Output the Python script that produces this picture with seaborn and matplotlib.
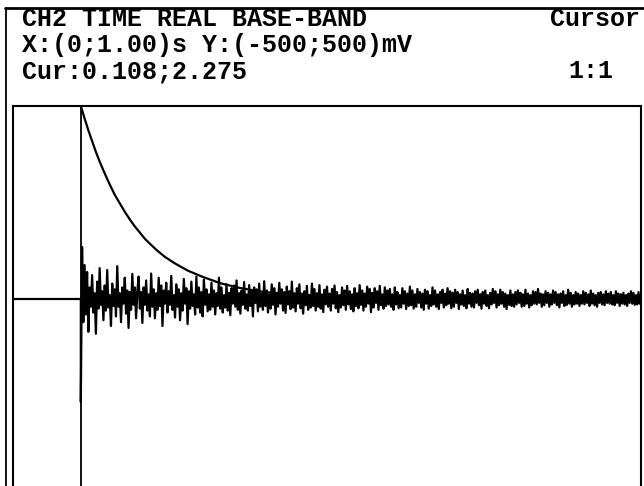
import matplotlib as mpl
mpl.use("Agg")

import matplotlib.pyplot as plt
from matplotlib.lines import Line2D
import seaborn as sns
import numpy as np
import pandas as pd

sns.set_style("white")

# header rows of the scope screen
title_row = "CH2 TIME REAL BASE-BAND"
range_row = "X:(0;1.00)s Y:(-500;500)mV"
cursor_row = "Cur:0.108;2.275"
mode_label = "Cursor"
zoom_label = "1:1"

x_range = (0.0, 1.00)      # s
y_range = (-500, 500)      # mV
cursor_t = 0.108

# flat trace before the trigger
pre_t = [0.0, 0.108]
pre_mv = [0, 0]

# sampled trace after the trigger, 2 ms apart from 0.108 s to 1.00 s
signal_mv = [
    -267, 135, -60, 88, -40, 70, -85, 30, -20, 62, -35, 15, -90, 45, -25, 80, -15, 20, -55, 35, -30, 75, -22,
    10, -70, 40, -18, 25, -45, 85, -20, 15, -60, 30, -12, 55, -38, 22, -75, 18, -28, 65, -15, 30, -50, 20,
    58, -25, 18, -62, 30, -15, 48, -30, 12, -45, 66, -20, 25, -50, 15, -28, 55, -18, 35, -70, 22, -12, 42, -35, 20,
    -15, 60, -28, 10, -48, 38, -20, 25, -55, 15, -30, 52, -12, 28, -65, 20, -25, 45, -18, 12, -40, 58, -22, 30, -35,
    18, -45, 50, -15, 25, -32, 12, -28, 42, -20, 22, -40, 15, -18, 55, -25, 30, -35, 10, -22, 38, -30, 16, -42, 28,
    -12, 35, -20, 48, -28, 15, -38, 22, -15, 44, -25, 12, -30, 36, -18, 20, -45, 30, -10, 25, -32, 40, -20, 14, -28,
    46, -18, 22, -35, 12, -25, 38, -15, 28, -40, 16, -20, 42, -12, 25, -30, 18, -36, 32, -14, 20, -26, 45, -22, 15,
    -32, 28, -12, 38, -24, 14, -38, 20, -16, 34, -28, 10, -22, 40, -18, 26, -30, 15, -20, 36, -25, 12, -34, 24, -14,
    32, -20, 14, -30, 26, -12, 35, -24, 18, -34, 10, -22, 30, -16, 22, -28, 34, -14, 20, -26, 12, -32, 28, -18, 15,
    -24, 36, -15, 22, -30, 14, -20, 32, -12, 26, -34, 16, -22, 28, -10, 20, -28, 34, -16, 12, -25, 30, -18, 22, -14,
    26, -20, 12, -28, 30, -14, 18, -24, 10, -22, 28, -12, 20, -26, 14, -18, 32, -16, 22, -25, 12, -20, 26, -10, 18,
    -22, 14, -28, 24, -12, 20, -25, 10, -18, 30, -14, 22, -20, 12, -26, 18, -10, 24, -22, 14, -16, 28, -12, 20, -24,
    16, -20, 24, -10, 18, -26, 12, -14, 22, -18, 10, -24, 26, -12, 16, -20, 14, -22, 20, -10, 24, -16, 12, -25, 18,
    -12, 22, -18, 10, -24, 16, -14, 26, -10, 20, -22, 12, -16, 24, -12, 18, -20, 14, -26, 10, -15, 22, -18, 12, -20,
    18, -14, 22, -10, 16, -20, 12, -18, 24, -12, 14, -22, 10, -16, 20, -12, 18, -14, 26, -10, 14, -20, 12, -16, 20,
    -10, 16, -20, 12, -14, 22, -10, 18, -16, 12, -22, 14, -10, 20, -18, 10, -15, 24, -12, 16, -20, 10, -14, 18, -12,
    14, -18, 10, -12, 20, -14, 16, -10, 12, -18, 22, -12, 14, -16, 10, -20, 16, -10, 18, -14, 12, -16, 20, -10, 14,
    -12, 18, -14, 10, -16, 20, -10, 14, -18, 12, -12, 16, -14, 10, -18, 14, -10, 20, -12, 16, -15, 10, -14, 18, -12,
    10,
]

# decay envelope
env_t = [0.108, 0.114, 0.120, 0.126, 0.132, 0.138, 0.144, 0.150, 0.156, 0.162,
         0.170, 0.178, 0.186, 0.194, 0.202, 0.210, 0.220, 0.230, 0.242, 0.258,
         0.279, 0.301, 0.330, 0.360, 0.400, 0.457, 0.537, 0.650, 0.800, 1.000]
env_mv = [500, 468, 437, 409, 381, 356, 333, 311, 290, 270,
          248, 226, 206, 188, 172, 156, 140, 125, 109, 92,
          73, 58, 41, 29, 18, 10, 4, 2, 1, 0]

sig_t = np.linspace(cursor_t, x_range[1], len(signal_mv))
trace_df = pd.DataFrame({
    "t": list(pre_t) + list(sig_t),
    "mv": list(pre_mv) + list(signal_mv),
})
env_df = pd.DataFrame({"t": env_t, "mv": env_mv})

W, H = 644, 486
fig = plt.figure(figsize=(W / 100, H / 100), dpi=100)
fig.patch.set_facecolor("white")

fx = lambda px: px / W
fy = lambda py: 1 - py / H

# plot box: x 13..641 px, top at 106 px, bottom runs just off the screen
ax = fig.add_axes([fx(13), fy(492), (641 - 13) / W, (492 - 106) / H])
sns.lineplot(data=trace_df, x="t", y="mv", ax=ax, color="black",
             linewidth=1.6, estimator=None, sort=False)
sns.lineplot(data=env_df, x="t", y="mv", ax=ax, color="black",
             linewidth=1.6, estimator=None, sort=False)
ax.axvline(cursor_t, color="black", linewidth=1.3)

ax.set_xlim(*x_range)
ax.set_ylim(*y_range)
ax.set_xticks([])
ax.set_yticks([])
ax.set_xlabel("")
ax.set_ylabel("")
for side in ax.spines.values():
    side.set_color("black")
    side.set_linewidth(1.5)

# outer screen frame
fig.add_artist(Line2D([fx(5), 1], [fy(8), fy(8)], color="black", linewidth=2))
fig.add_artist(Line2D([fx(6), fx(6)], [fy(8), 0], color="black", linewidth=1.3))

txt = dict(fontsize=18, fontweight="bold", family="Liberation Mono",
           va="center", ha="left", color="black")
fig.text(fx(22), fy(19), title_row, **txt)
fig.text(fx(22), fy(45), range_row, **txt)
fig.text(fx(22), fy(71), cursor_row, **txt)
fig.text(fx(550), fy(19), mode_label, **txt)
fig.text(fx(568), fy(71), zoom_label, **txt)

fig.savefig("out.png", dpi=100)
